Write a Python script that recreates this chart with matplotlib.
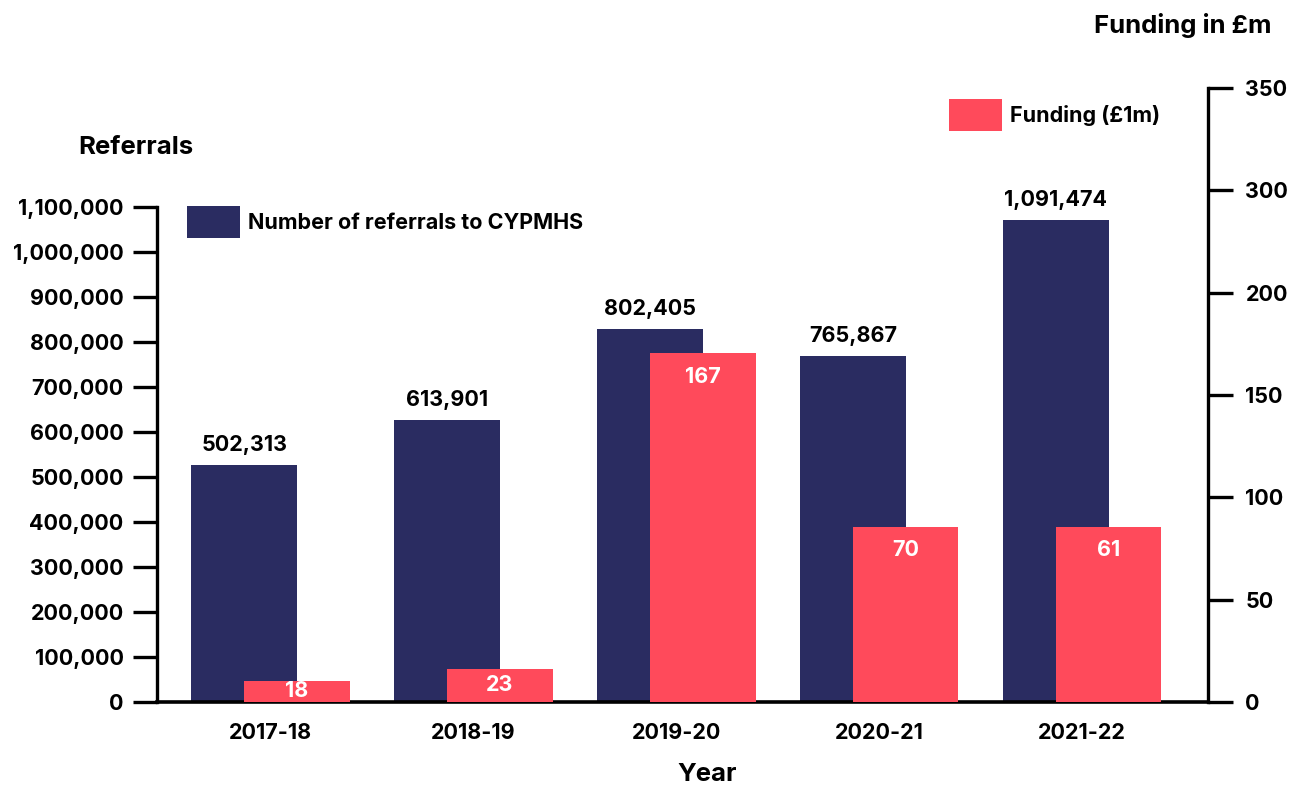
import numpy as np
import matplotlib.pyplot as plt
from matplotlib.patches import Patch

# data
years = ['2017-18', '2018-19', '2019-20', '2020-21', '2021-22']
referrals = [502313, 613901, 802405, 765867, 1091474]
# bar heights as drawn (the graphic is not drawn to scale)
referral_bar = [527000, 627000, 829000, 769000, 1071000]
funding = [18, 23, 167, 70, 61]
funding_bar = [12, 19, 199, 100, 100]

left_ticks = np.arange(0, 1100001, 100000)
right_tick_labels = ['0', '50', '100', '150', '200', '300', '350']

NAVY = '#2a2c61'
RED = '#ff4a5b'

plt.rcParams['font.family'] = ['Inter', 'DejaVu Sans']
plt.rcParams['font.weight'] = 'bold'

FS = 15.5

W, H = 1302, 787
fig = plt.figure(figsize=(W / 100, H / 100), dpi=100)
ax = fig.add_axes([157 / W, 1 - 702 / H, (1208 - 157) / W, (702 - 88) / H])
ax2 = ax.twinx()

x = np.arange(len(years))
bw = 0.52
off = 0.13

ax.bar(x - off, referral_bar, bw, color=NAVY, zorder=2)
ax2.bar(x + off, funding_bar, bw, color=RED, zorder=3)

ax.set_xlim(-0.56, 4.62)
ax.set_ylim(0, 1100000 * 614 / 495)
ax2.set_ylim(0, 350)

# spines
for s in ['top', 'right']:
    ax.spines[s].set_visible(False)
for s in ['top', 'left', 'bottom']:
    ax2.spines[s].set_visible(False)
ax.spines['left'].set_bounds(0, 1100000)
ax.spines['left'].set_linewidth(2.4)
ax.spines['bottom'].set_linewidth(2.6)
ax2.spines['right'].set_linewidth(2.4)

ax.set_yticks(left_ticks)
ax.set_yticklabels([f'{v:,}' for v in left_ticks])
ax.tick_params(axis='y', length=17, width=2.4, pad=7, labelsize=FS)
ax.set_xticks(x)
ax.set_xticklabels(years)
ax.tick_params(axis='x', length=0, pad=15, labelsize=FS)

ax2.set_yticks(np.linspace(0, 350, len(right_tick_labels)))
ax2.set_yticklabels(right_tick_labels)
ax2.tick_params(axis='y', length=18, width=2.4, pad=9, labelsize=FS)

# value labels
for xi, h, v in zip(x, referral_bar, referrals):
    ax.annotate(f'{v:,}', (xi - off, h), xytext=(0, 7), textcoords='offset points',
                ha='center', va='bottom', fontsize=FS, zorder=5)
for xi, h, v in zip(x, funding_bar, funding):
    if h < 50:
        ax2.annotate(str(v), (xi + off, h / 2), ha='center', va='center',
                     color='white', fontsize=FS, zorder=5)
    else:
        ax2.annotate(str(v), (xi + off, h), xytext=(0, -17), textcoords='offset points',
                     ha='center', va='center', color='white', fontsize=FS, zorder=5)

# axis titles
fig.text(78 / W, 1 - 148 / H, 'Referrals', ha='left', va='center', fontsize=18.5)
fig.text(1272 / W, 1 - 26 / H, 'Funding in £m', ha='right', va='center', fontsize=18.5)
ax.set_xlabel('Year', fontsize=18.5, fontweight='bold')
ax.xaxis.set_label_coords((707 - 157) / (1208 - 157), -(763 - 702) / (702 - 88))

# legends
leg_kw = dict(loc='center left', bbox_transform=fig.transFigure, frameon=False,
              fontsize=15.5, handlelength=2.45, handleheight=1.95, handletextpad=0.38,
              borderpad=0, borderaxespad=0)
ax.legend(handles=[Patch(facecolor=NAVY, label='Number of referrals to CYPMHS')],
          bbox_to_anchor=(187 / W, 1 - 222 / H), **leg_kw)
ax2.legend(handles=[Patch(facecolor=RED, label='Funding (£1m)')],
           bbox_to_anchor=(949 / W, 1 - 115 / H), **leg_kw)

fig.savefig('out.png', dpi=100, facecolor='white')
